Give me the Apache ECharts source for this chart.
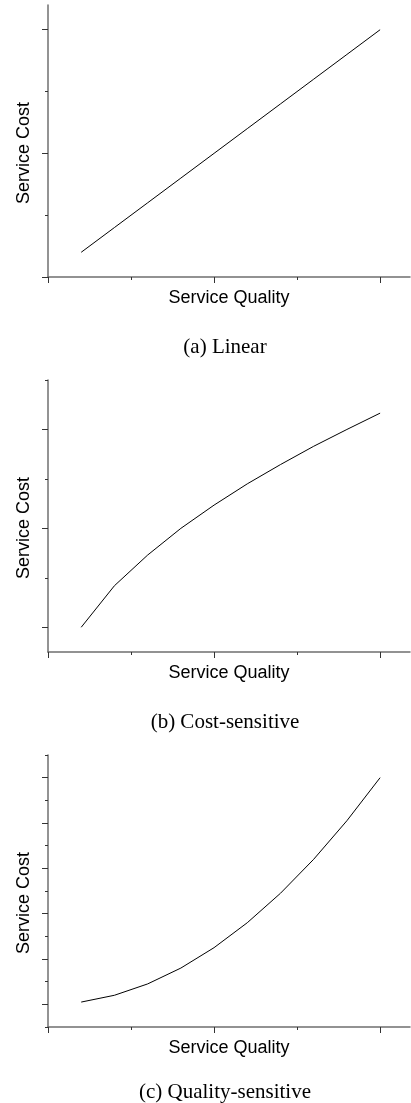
<!DOCTYPE html>
<html>
<head>
<meta charset="utf-8">
<script src="https://cdn.jsdelivr.net/npm/echarts@6/dist/echarts.min.js"></script>
<style>
  html, body { margin: 0; padding: 0; background: #fff; }
  #chart { width: 411px; height: 1103px; }
</style>
</head>
<body>
<div id="chart"></div>
<script>
// Service quality levels sampled along each cost model
const quality = [0.1, 0.2, 0.3, 0.4, 0.5, 0.6, 0.7, 0.8, 0.9, 1.0];

// (a) cost grows in proportion to quality
const linearCost = [0.1, 0.2, 0.3, 0.4, 0.5, 0.6, 0.7, 0.8, 0.9, 1.0];
// (b) cost rises quickly at low quality, then flattens
const costSensitiveCost = [1.0, 1.84, 2.46, 3.0, 3.47, 3.9, 4.29, 4.66, 5.0, 5.33];
// (c) cost rises slowly at first, then steeply
const qualitySensitiveCost = [0.01, 0.04, 0.09, 0.16, 0.25, 0.36, 0.49, 0.64, 0.81, 1.0];

const captions = ['(a) Linear', '(b) Cost-sensitive', '(c) Quality-sensitive'];
const xName = 'Service Quality';
const yName = 'Service Cost';

// tick positions (unlabelled)
const xMajor = [0, 0.5, 1];
const xMinor = [0.25, 0.75];
const yMajorA = [0, 0.5, 1];
const yMinorA = [0.25, 0.75];
const yMajorB = [1, 3, 5];
const yMinorB = [2, 4, 6];
const yMajorC = [0, 0.2, 0.4, 0.6, 0.8, 1.0];
const yMinorC = [-0.1, 0.1, 0.3, 0.5, 0.7, 0.9, 1.1];

const panels = [
  { top: 5,   yMin: 0,    yMax: 1.1, major: yMajorA, minor: yMinorA, cost: linearCost,           caption: captions[0], capTop: 332 },
  { top: 380, yMin: 0.5,  yMax: 6,   major: yMajorB, minor: yMinorB, cost: costSensitiveCost,    caption: captions[1], capTop: 707 },
  { top: 755, yMin: -0.1, yMax: 1.1, major: yMajorC, minor: yMinorC, cost: qualitySensitiveCost, caption: captions[2], capTop: 1077 }
];

const AXIS_COLOR = '#6f6f6f';
const TICK_COLOR = '#333';
const SANS = 'Liberation Sans, Arial, sans-serif';
const SERIF = 'Liberation Serif, Times New Roman, serif';

const grid = [], xAxis = [], yAxis = [], series = [], title = [];

panels.forEach((p, i) => {
  grid.push({ left: 48, width: 362, top: p.top, height: 272, containLabel: false });

  // main axes: line, major ticks and name
  xAxis.push({
    type: 'value', gridIndex: i, position: 'bottom', min: 0, max: 1.09,
    axisLine: { show: true, onZero: false, lineStyle: { color: AXIS_COLOR, width: 1.5 } },
    axisTick: { show: true, customValues: xMajor, length: 6, lineStyle: { color: TICK_COLOR, width: 1 } },
    axisLabel: { show: false },
    splitLine: { show: false },
    name: xName, nameLocation: 'middle', nameGap: 12,
    nameTextStyle: { fontFamily: SANS, fontSize: 18, color: '#000' }
  });
  // companion axis on the same edge carrying only the short minor ticks
  xAxis.push({
    type: 'value', gridIndex: i, position: 'bottom', offset: 0, min: 0, max: 1.09,
    axisLine: { show: false, onZero: false },
    axisTick: { show: true, customValues: xMinor, length: 3, lineStyle: { color: TICK_COLOR, width: 1 } },
    axisLabel: { show: false },
    splitLine: { show: false }
  });

  yAxis.push({
    type: 'value', gridIndex: i, position: 'left', min: p.yMin, max: p.yMax,
    axisLine: { show: true, onZero: false, lineStyle: { color: AXIS_COLOR, width: 1.5 } },
    axisTick: { show: true, customValues: p.major, length: 6, lineStyle: { color: TICK_COLOR, width: 1 } },
    axisLabel: { show: false },
    splitLine: { show: false },
    name: yName, nameLocation: 'middle', nameGap: 15,
    nameTextStyle: { fontFamily: SANS, fontSize: 18, color: '#000', padding: [0, 24, 0, 0] }
  });
  yAxis.push({
    type: 'value', gridIndex: i, position: 'left', offset: 0, min: p.yMin, max: p.yMax,
    axisLine: { show: false, onZero: false },
    axisTick: { show: true, customValues: p.minor, length: 3, lineStyle: { color: TICK_COLOR, width: 1 } },
    axisLabel: { show: false },
    splitLine: { show: false }
  });

  series.push({
    type: 'line',
    xAxisIndex: 2 * i, yAxisIndex: 2 * i,
    data: quality.map((q, k) => [q, p.cost[k]]),
    showSymbol: false,
    lineStyle: { color: '#000', width: 1 },
    silent: true
  });

  title.push({
    text: p.caption,
    left: 220, top: p.capTop, textAlign: 'center',
    textStyle: { fontFamily: SERIF, fontSize: 21, fontWeight: 'normal', color: '#000' }
  });
});

const chart = echarts.init(document.getElementById('chart'), null, { renderer: 'canvas' });
chart.setOption({
  animation: false,
  backgroundColor: '#fff',
  title, grid, xAxis, yAxis, series
});
</script>
</body>
</html>
